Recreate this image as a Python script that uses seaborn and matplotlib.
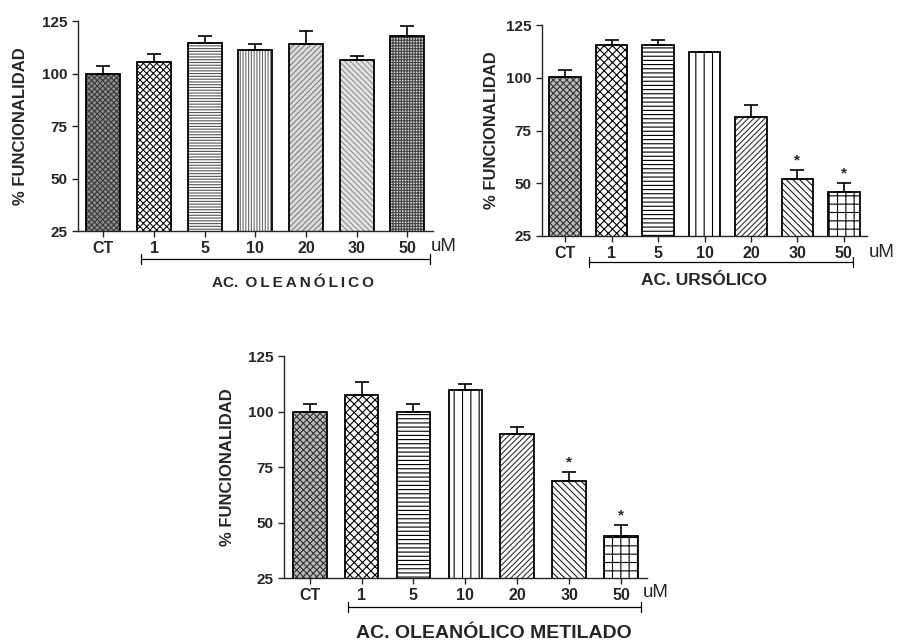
import numpy as np
import matplotlib
matplotlib.use("Agg")
import matplotlib.pyplot as plt
import matplotlib.transforms as mtransforms
import seaborn as sns

# --------------------------
# Dados
# --------------------------
categorias = ["CT", "1", "5", "10", "20", "30", "50"]

oleanolico = [99.8, 105.6, 114.5, 111.0, 113.9, 106.6, 117.7]
oleanolico_err = [3.9, 3.8, 3.5, 3.2, 6.3, 1.6, 5.1]
oleanolico_sig = [False, False, False, False, False, False, False]

ursolico = [100.2, 115.5, 115.5, 112.0, 81.5, 52.0, 46.0]
ursolico_err = [3.6, 2.2, 2.2, 0.3, 5.8, 4.3, 4.2]
ursolico_sig = [False, False, False, False, False, True, True]

metilado = [99.9, 107.4, 99.6, 109.7, 89.8, 68.8, 44.1]
metilado_err = [3.7, 6.0, 3.7, 2.7, 3.3, 3.9, 4.8]
metilado_sig = [False, False, False, False, False, True, True]

# padrões (hatch, cor do hatch, cor de fundo)
estilos_1 = [("xxxxxx", "#3a3a3a", "#8c8c8c"),
             ("xxxxx", "#111111", "white"),
             ("------", "#555555", "white"),
             ("||||||", "#666666", "white"),
             ("//////", "#808080", "#dcdcdc"),
             ("\\\\\\\\\\\\", "#909090", "#e4e4e4"),
             ("++++++", "#444444", "#d4d4d4")]
estilos_2 = [("xxxxx", "#333333", "#bbbbbb"),
             ("xxxx", "black", "white"),
             ("----", "black", "white"),
             ("||", "black", "white"),
             ("//////", "#333333", "white"),
             ("\\\\\\\\\\", "#222222", "white"),
             ("++", "black", "white")]

sns.set_style("ticks")
plt.rcParams["font.family"] = ["Liberation Sans", "DejaVu Sans"]
plt.rcParams["hatch.linewidth"] = 0.8

ESP = "\u2009"


def espacado(txt):
    return ESP.join(txt)


def painel(ax, valores, erros, sig, estilos, titulo, titulo_x, titulo_y, titulo_size,
           colchete, colchete_y, um_x, um_y, largura, labelpad):
    # preenchimento com padrão
    sns.barplot(x=categorias, y=valores, order=categorias, ax=ax, color="white",
                width=largura, linewidth=0, saturation=1)
    for patch, (hatch, hcor, fundo) in zip(ax.patches, estilos):
        patch.set_facecolor(fundo)
        patch.set_edgecolor(hcor)
        patch.set_hatch(hatch)
        patch.set_linewidth(0)
    # contorno
    sns.barplot(x=categorias, y=valores, order=categorias, ax=ax, fill=False,
                width=largura, linewidth=1.3, edgecolor="black")
    pos = np.arange(len(categorias))
    ax.errorbar(pos, valores, yerr=[np.zeros(len(erros)), erros], fmt="none",
                ecolor="black", elinewidth=1.2, capsize=5, capthick=1.2, zorder=3)
    for p, v, e, s in zip(pos, valores, erros, sig):
        if s:
            ax.text(p, v + e + 1.0, "*", ha="center", va="bottom", fontsize=11,
                    fontweight="bold")

    ax.set_ylim(25, 125)
    ax.set_xlim(-0.5, 6.5)
    ax.set_yticks([25, 50, 75, 100, 125])
    ax.tick_params(axis="y", labelsize=11, width=1, length=4)
    ax.tick_params(axis="x", labelsize=11.5, width=1, length=4)
    for lab in ax.get_xticklabels() + ax.get_yticklabels():
        lab.set_fontweight("bold")
    ax.set_xlabel("")
    ax.set_ylabel("% FUNCIONALIDAD", fontsize=12, fontweight="bold", labelpad=labelpad)
    sns.despine(ax=ax)
    for sp in ["left", "bottom"]:
        ax.spines[sp].set_linewidth(1)

    trans = mtransforms.blended_transform_factory(ax.transData, ax.transAxes)
    x0, x1 = colchete
    ax.plot([x0, x1], [colchete_y, colchete_y], color="black", lw=0.9,
            transform=trans, clip_on=False)
    for xx in (x0, x1):
        ax.plot([xx, xx], [colchete_y - 0.022, colchete_y + 0.022], color="black",
                lw=0.9, transform=trans, clip_on=False)
    ax.text(um_x, um_y, "uM", transform=trans, fontsize=13.5, ha="left", va="center")
    ax.text(titulo_x, titulo_y, titulo, transform=trans, fontsize=titulo_size,
            fontweight="bold", ha="center", va="center")


fig = plt.figure(figsize=(8.98, 6.43), dpi=100)
ax1 = fig.add_axes([0.0869, 0.6407, 0.395, 0.3266])
ax2 = fig.add_axes([0.6036, 0.633, 0.362, 0.328])
ax3 = fig.add_axes([0.316, 0.101, 0.4045, 0.3453])

painel(ax1, oleanolico, oleanolico_err, oleanolico_sig, estilos_1,
       "AC." + ESP + " " + espacado("OLEANÓLICO"), 3.74, -0.248, 11,
       (0.75, 6.44), -0.133, 6.46, -0.076, 0.67, 10)
painel(ax2, ursolico, ursolico_err, ursolico_sig, estilos_2,
       "AC. URSÓLICO", 2.99, -0.209, 12.5,
       (0.51, 6.2), -0.123, 6.54, -0.076, 0.68, 5)
painel(ax3, metilado, metilado_err, metilado_sig, estilos_2,
       "AC. OLEANÓLICO METILADO", 3.54, -0.248, 14,
       (0.73, 6.38), -0.131, 6.42, -0.063, 0.65, 9)

fig.savefig("out.png", dpi=100)
